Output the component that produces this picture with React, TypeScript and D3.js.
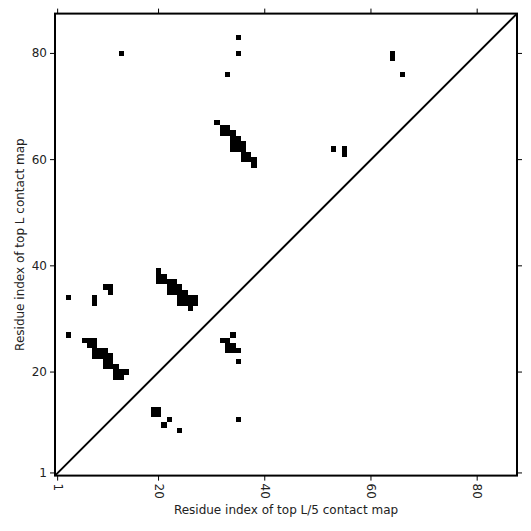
import React from 'react';
import * as d3 from 'd3';

// residue count
const L = 87;

// top L contacts (upper-left triangle), [i, j]
const topLContacts: [number, number][] = [
  [13, 80], [35, 83], [35, 80], [33, 76], [64, 80], [64, 79], [66, 76],
  [31, 67], [32, 66], [33, 66], [32, 65], [33, 65], [34, 65], [34, 64], [35, 64],
  [34, 63], [35, 63], [36, 63], [34, 62], [35, 62], [36, 62], [36, 61], [37, 61],
  [36, 60], [37, 60], [38, 60], [38, 59],
  [53, 62], [55, 62], [55, 61],
  [20, 39], [20, 38], [21, 38], [20, 37], [21, 37], [22, 37], [23, 37],
  [22, 36], [23, 36], [24, 36], [22, 35], [23, 35], [24, 35], [25, 35],
  [24, 34], [25, 34], [26, 34], [27, 34], [24, 33], [25, 33], [26, 33], [27, 33], [26, 32],
  [3, 34], [8, 34], [8, 33], [10, 36], [11, 36], [11, 35], [3, 27],
  [6, 26], [7, 26], [8, 26], [7, 25], [8, 25], [8, 24], [9, 24], [10, 24],
  [8, 23], [9, 23], [10, 23], [11, 23], [10, 22], [11, 22], [10, 21], [11, 21], [12, 21],
  [12, 20], [13, 20], [14, 20], [12, 19], [13, 19],
];

// top L/5 contacts (lower-right triangle), [i, j]
const topL5Contacts: [number, number][] = [
  [34, 27], [32, 26], [33, 26], [33, 25], [34, 25], [33, 24], [34, 24], [35, 24], [35, 22],
  [19, 13], [20, 13], [19, 12], [20, 12], [22, 11], [21, 10], [24, 9], [35, 11],
];

const xTicks = [1, 20, 40, 60, 80];
const yTicks = [1, 20, 40, 60, 80];

const W = 531;
const H = 531;
const left = 55;
const top = 13.6;
const size = 462;

const App: React.FC = () => {
  const x = d3.scaleLinear().domain([0.5, L + 0.5]).range([left, left + size]);
  const y = d3.scaleLinear().domain([0.5, L + 0.5]).range([top + size, top]);
  const cells = [...topLContacts, ...topL5Contacts];
  const font = 'DejaVu Sans, sans-serif';

  return (
    <svg width={W} height={H} style={{ position: 'absolute', left: 0, top: 0 }}>
      <rect width={W} height={H} fill="#fff" />
      {cells.map(([i, j], k) => (
        <rect
          key={k}
          x={x(i - 0.5)}
          y={y(j + 0.5)}
          width={x(i + 0.5) - x(i - 0.5)}
          height={y(j - 0.5) - y(j + 0.5)}
          fill="#000"
          shapeRendering="crispEdges"
        />
      ))}
      <line x1={x(0.5)} y1={y(0.5)} x2={x(L + 0.5)} y2={y(L + 0.5)} stroke="#000" strokeWidth={2} />
      <rect x={left} y={top} width={size} height={size} fill="none" stroke="#000" strokeWidth={2} />

      {/* ticks on all four sides */}
      {xTicks.map(t => (
        <g key={'x' + t}>
          <line x1={x(t)} x2={x(t)} y1={top + size} y2={top + size + 5} stroke="#000" />
          <line x1={x(t)} x2={x(t)} y1={top} y2={top - 5} stroke="#000" />
          <text
            transform={`translate(${x(t)},${top + size + 8}) rotate(90)`}
            dominantBaseline="central"
            fontFamily={font}
            fontSize={12}
            fill="#222"
          >
            {t}
          </text>
        </g>
      ))}
      {yTicks.map(t => (
        <g key={'y' + t}>
          <line x1={left} x2={left - 5} y1={y(t)} y2={y(t)} stroke="#000" />
          <line x1={left + size} x2={left + size + 5} y1={y(t)} y2={y(t)} stroke="#000" />
          <text
            x={left - 8}
            y={y(t)}
            textAnchor="end"
            dominantBaseline="central"
            fontFamily={font}
            fontSize={12}
            fill="#222"
          >
            {t}
          </text>
        </g>
      ))}

      <text x={left + size / 2} y={514} textAnchor="middle" fontFamily={font} fontSize={12} fill="#222">
        Residue index of top L/5 contact map
      </text>
      <text
        transform={`translate(24,${top + size / 2}) rotate(-90)`}
        textAnchor="middle"
        fontFamily={font}
        fontSize={12}
        fill="#222"
      >
        Residue index of top L contact map
      </text>
    </svg>
  );
};

export default App;
